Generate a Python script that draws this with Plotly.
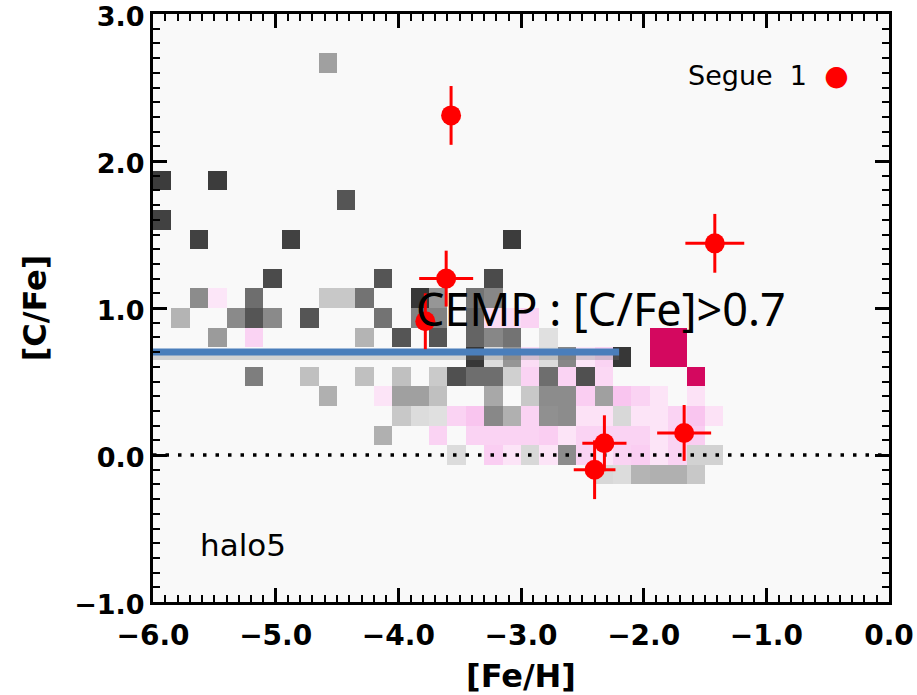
import numpy as np
import plotly.graph_objects as go

# ---- histogram grid ([Fe/H] x [C/Fe]) ----
FEH_MIN, FEH_MAX, N_FEH = -6.0, 0.0, 40
CFE_MIN, CFE_MAX, N_CFE = -1.0, 3.0, 30

# gray cells: column index, row index, gray level (0=black, 255=white)
gray_ix = [9, 0, 3, 10, 0, 2, 7, 19,
           6, 12, 18,
           2, 5, 9, 10, 11, 14, 15, 17, 18,
           1, 4, 5, 6, 8, 12, 14, 15, 17,
           3, 11, 13, 15, 17, 18, 19, 21,
           17, 18, 19, 21, 22, 25,
           5, 8, 11, 13, 15, 16, 17, 18, 19, 21, 23,
           9, 13, 14, 15, 18, 20, 21, 22, 24,
           13, 14, 15, 18, 19, 21, 22, 25,
           12,
           16, 20, 22, 29, 30,
           24, 25, 26, 27, 28, 29]
gray_iy = [27, 21, 21, 20, 19, 18, 18, 18,
           16, 16, 16,
           15, 15, 15, 15, 15, 15, 15, 15, 15,
           14, 14, 14, 14, 14, 14, 14, 14, 14,
           13, 13, 13, 13, 13, 13, 13, 13,
           12, 12, 12, 12, 12, 12,
           11, 11, 11, 11, 11, 11, 11, 11, 11, 11, 11,
           10, 10, 10, 10, 10, 10, 10, 10, 10,
           9, 9, 9, 9, 9, 9, 9, 9,
           8,
           7, 7, 7, 7, 7,
           6, 6, 6, 6, 6, 6]
gray_lvl = [160, 60, 60, 85, 65, 65, 65, 60,
            75, 85, 75,
            140, 110, 200, 200, 115, 55, 150, 115, 135,
            180, 138, 85, 138, 85, 115, 130, 130, 100,
            155, 180, 85, 85, 100, 135, 115, 224,
            55, 220, 150, 220, 135, 55,
            126, 192, 192, 192, 202, 80, 110, 110, 208, 110, 80,
            176, 160, 160, 192, 168, 200, 140, 140, 160,
            200, 220, 224, 136, 176, 144, 140, 216,
            176,
            220, 216, 140, 210, 210,
            216, 220, 180, 176, 176, 200]

# pink (model) cells: column index, row index, intensity (0..1)
pink_ix = [3, 18, 19, 20, 5, 27, 28, 20, 23, 24, 27, 28,
           20, 22, 24, 29,
           12, 23, 25, 26, 27, 29,
           16, 17, 20, 23, 24, 26, 27, 28, 29, 30,
           15, 17, 18, 19, 20, 21, 22, 23, 24, 25, 26, 27, 28, 29,
           18, 19, 21, 23, 24, 25, 26, 27, 28]
pink_iy = [15, 14, 14, 14, 13, 13, 13, 12, 12, 12, 12, 12,
           11, 11, 11, 11,
           10, 10, 10, 10, 10, 10,
           9, 9, 9, 9, 9, 9, 9, 9, 9, 9,
           8, 8, 8, 8, 8, 8, 8, 8, 8, 8, 8, 8, 8, 8,
           7, 7, 7, 7, 7, 7, 7, 7, 7]
pink_val = [0.1, 0.2, 0.2, 0.3, 0.3, 1.0, 1.0, 0.2, 0.1, 0.3, 1.0, 1.0,
            0.3, 0.3, 0.25, 1.0,
            0.12, 0.35, 0.45, 0.3, 0.12, 0.15,
            0.3, 0.45, 0.3, 0.15, 0.15, 0.12, 0.12, 0.3, 0.45, 0.15,
            0.3, 0.3, 0.3, 0.3, 0.3, 0.35, 0.12, 0.3, 0.3, 0.3, 0.3, 0.12, 0.3, 0.35,
            0.35, 0.12, 0.12, 0.3, 0.12, 0.3, 0.35, 0.12, 0.3]

# ---- Segue 1 stars ----
seg_feh = [-3.57, -1.42, -3.61, -3.78, -2.32, -2.40, -1.67]
seg_cfe = [2.31, 1.44, 1.20, 0.91, 0.08, -0.10, 0.15]
seg_xerr = [0.0, 0.24, 0.22, 0.0, 0.18, 0.17, 0.22]
seg_yerr = [0.20, 0.20, 0.19, 0.19, 0.19, 0.20, 0.19]

CEMP_LEVEL = 0.7
CEMP_FEH = [-6.0, -2.2]
SOLAR_FEH = [-6.0, 0.0]
SOLAR_CFE = 0.0

# ---- build grids ----
feh_edges = np.linspace(FEH_MIN, FEH_MAX, N_FEH + 1)
cfe_edges = np.linspace(CFE_MIN, CFE_MAX, N_CFE + 1)
feh_c = 0.5 * (feh_edges[:-1] + feh_edges[1:])
cfe_c = 0.5 * (cfe_edges[:-1] + cfe_edges[1:])

zg = np.full((N_CFE, N_FEH), np.nan)
for i, j, v in zip(gray_ix, gray_iy, gray_lvl):
    zg[j, i] = v
zp = np.full((N_CFE, N_FEH), np.nan)
for i, j, v in zip(pink_ix, pink_iy, pink_val):
    zp[j, i] = v

FONT = "DejaVu Sans"
fig = go.Figure()
fig.add_trace(go.Heatmap(x=feh_c, y=cfe_c, z=zg, zmin=0, zmax=255,
                         colorscale=[[0, "rgb(0,0,0)"], [1, "rgb(255,255,255)"]],
                         showscale=False, hoverinfo="skip"))
fig.add_trace(go.Heatmap(x=feh_c, y=cfe_c, z=zp, zmin=0, zmax=1,
                         colorscale=[[0, "#fdf0fa"], [0.5, "#f8c0ee"], [1, "#d4085f"]],
                         showscale=False, hoverinfo="skip"))
# solar line (dotted)
fig.add_trace(go.Scatter(x=SOLAR_FEH, y=[SOLAR_CFE, SOLAR_CFE], mode="lines",
                         line=dict(color="black", width=3.5, dash="3.5px,9px"),
                         showlegend=False, hoverinfo="skip"))
# CEMP threshold line with soft shadow
fig.add_trace(go.Scatter(x=CEMP_FEH, y=[CEMP_LEVEL - 0.03] * 2, mode="lines",
                         line=dict(color="rgba(120,120,120,0.3)", width=7),
                         showlegend=False, hoverinfo="skip"))
fig.add_trace(go.Scatter(x=CEMP_FEH, y=[CEMP_LEVEL] * 2, mode="lines",
                         line=dict(color="#4a7ebb", width=7),
                         showlegend=False, hoverinfo="skip"))
# Segue 1
fig.add_trace(go.Scatter(x=seg_feh, y=seg_cfe, mode="markers",
                         marker=dict(color="#ff0000", size=20),
                         error_x=dict(type="data", array=seg_xerr, color="#ff0000", thickness=3, width=0),
                         error_y=dict(type="data", array=seg_yerr, color="#ff0000", thickness=3, width=0),
                         showlegend=False))

axis_common = dict(showline=True, linewidth=3, linecolor="black", mirror="allticks",
                   ticks="inside", ticklen=14, tickwidth=2.5, tickcolor="black",
                   showgrid=False, zeroline=False, tickformat=".1f", automargin=False,
                   ticklabeloverflow="allow")
fig.update_layout(
    width=917, height=695,
    margin=dict(l=153, r=28, t=14, b=93),
    paper_bgcolor="white", plot_bgcolor="#f9f9f9",
    xaxis=dict(range=[FEH_MIN, FEH_MAX], tick0=-6, dtick=1,
               tickfont=dict(family=FONT, size=28, color="black", weight="bold"),
               ticklabelstandoff=6,
               minor=dict(dtick=0.1, ticklen=7, tickwidth=2, ticks="inside", tickcolor="black"),
               title=dict(text="[Fe/H]", font=dict(family=FONT, size=32, color="black", weight="bold"),
                          standoff=18),
               **axis_common),
    yaxis=dict(range=[CFE_MIN, CFE_MAX], tick0=-1, dtick=1,
               tickfont=dict(family=FONT, size=27, color="black", weight="bold"),
               ticklabelshift=3,
               minor=dict(dtick=0.1, ticklen=7, tickwidth=2, ticks="inside", tickcolor="black"),
               title=dict(text="[C/Fe]", font=dict(family=FONT, size=32, color="black", weight="bold"),
                          standoff=18),
               **axis_common),
    showlegend=False,
    annotations=[
        dict(x=-5.27, y=-0.61, text="halo5", showarrow=False,
             font=dict(family=FONT, size=31, color="black")),
        dict(x=-0.31, y=2.58, xanchor="right",
             text="Segue  1  <span style='color:#ff0000;font-size:28px'>●</span>",
             showarrow=False, font=dict(family=FONT, size=27, color="black")),
        dict(x=-3.87, y=1.0, xanchor="left", yanchor="middle", text="CEMP : [C/Fe]>0.7",
             showarrow=False, font=dict(family="Noto Sans", size=45, color="black")),
    ],
)
fig.write_html("out.html")
